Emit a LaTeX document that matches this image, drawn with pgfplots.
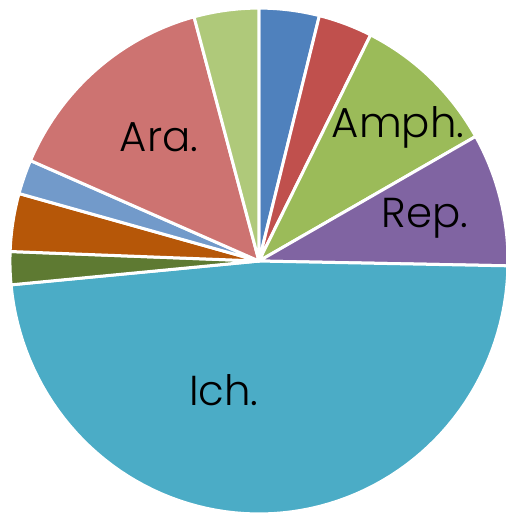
\documentclass[border=0pt]{standalone}
\usepackage{pgfplots}
\pgfplotsset{compat=1.18}
\usepackage{fontspec}
\setmainfont{Poppins Light}

\definecolor{sBlue}{HTML}{4F81BD}
\definecolor{sRed}{HTML}{C0504D}
\definecolor{sGreen}{HTML}{9BBB59}
\definecolor{sPurple}{HTML}{8064A2}
\definecolor{sCyan}{HTML}{4BACC6}
\definecolor{sDkGreen}{HTML}{5E7A32}
\definecolor{sOrange}{HTML}{B65708}
\definecolor{sLtBlue}{HTML}{729ACA}
\definecolor{sSalmon}{HTML}{CD7371}
\definecolor{sLtGreen}{HTML}{AFC97A}

% running total (percent) of the slices drawn so far
\def\cum{0}
% #1 = share in percent, #2 = colour; slices go clockwise from the top
\newcommand\slice[2]{%
  \pgfmathsetmacro\angA{90-3.6*\cum}%
  \pgfmathsetmacro\angB{90-3.6*(\cum+#1)}%
  \edef\doslice{\noexpand\addplot[fill=#2, draw=white, line width=1.5bp,
    line join=round, domain=\angB:\angA, samples=80]
    ({cos(x)},{sin(x)}) -- (0,0) -- cycle;}%
  \doslice
  \pgfmathsetmacro\newcum{\cum+#1}%
  \xdef\cum{\newcum}%
}

\begin{document}
\begin{tikzpicture}
\begin{axis}[scale only axis, width=253bp, height=257.5bp,
  xmin=-1.040, xmax=0.992, ymin=-1.004, ymax=1.032,
  hide axis, clip=true]
\slice{3.9}{sBlue}
\slice{3.5}{sRed}
\slice{9.4}{sGreen}
\slice{8.5}{sPurple}
\slice{48.2}{sCyan}
\slice{2.1}{sDkGreen}
\slice{3.7}{sOrange}
\slice{2.2}{sLtBlue}
\slice{14.3}{sSalmon}
\slice{4.2}{sLtGreen}
\begin{scope}[every node/.style={font=\fontsize{21}{25}\selectfont, text=black}]
\node at (axis cs:-0.402,0.490) {Ara.};
\node at (axis cs:0.558,0.530) {Amph.};
\node at (axis cs:0.667,0.170) {Rep.};
\node at (axis cs:-0.141,-0.51) {Ich.};
\end{scope}
\end{axis}
\pgfresetboundingbox
\path (current axis.south west) rectangle (current axis.north east);
\end{tikzpicture}
\end{document}
